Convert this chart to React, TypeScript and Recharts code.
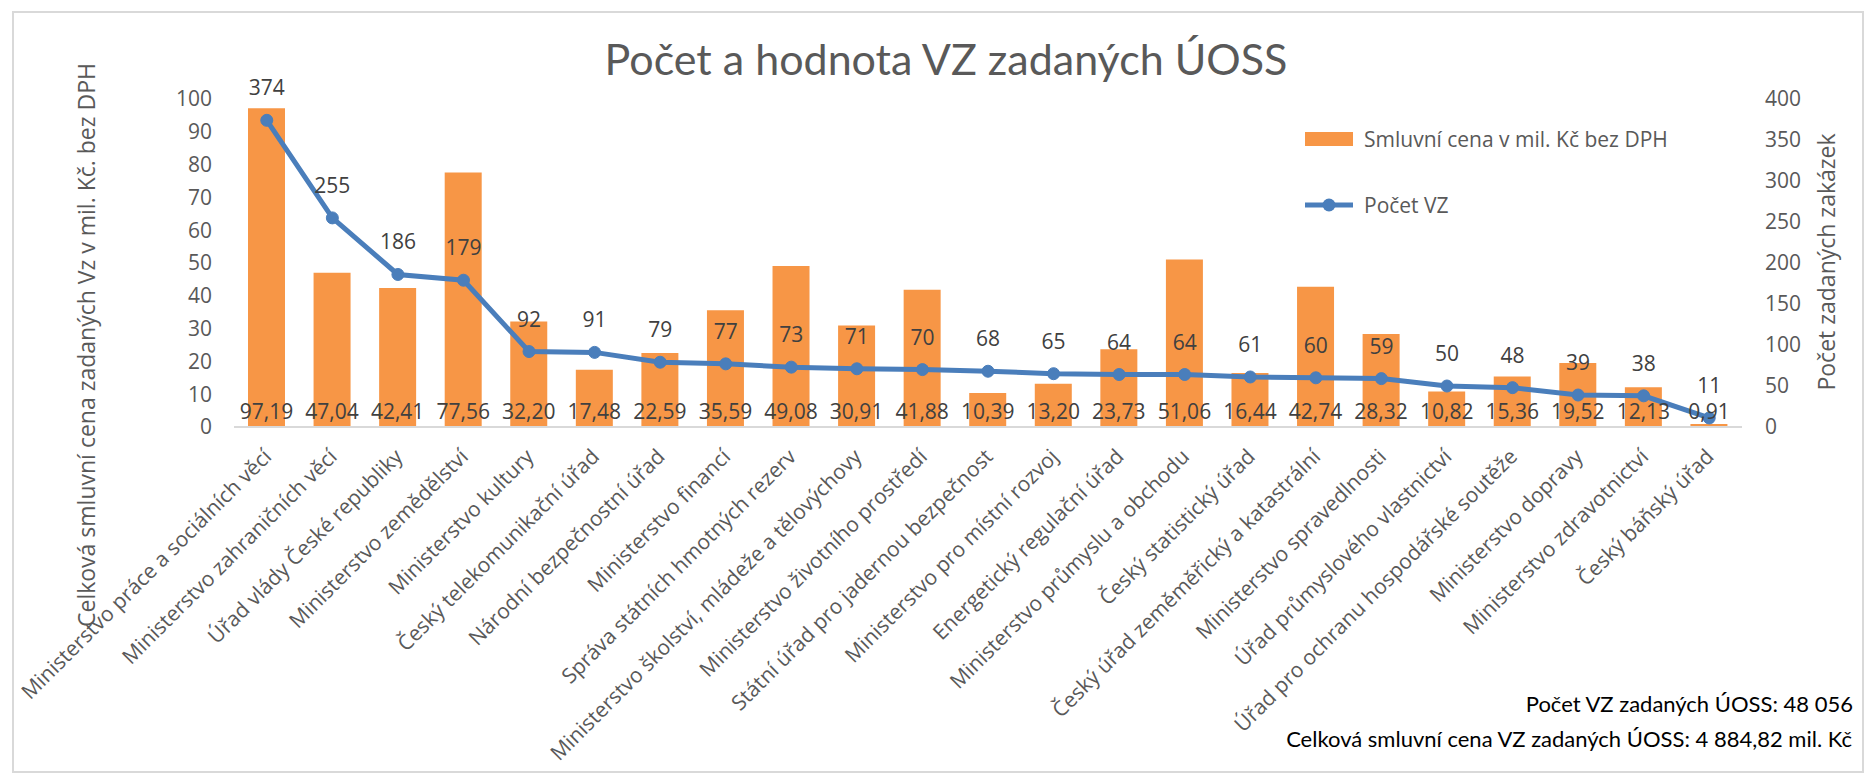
import { Bar, ComposedChart, LabelList, Legend, Line, XAxis, YAxis } from "recharts";

const categories = [
  "Ministerstvo práce a sociálních věcí",
  "Ministerstvo zahraničních věcí",
  "Úřad vlády České republiky",
  "Ministerstvo zemědělství",
  "Ministerstvo kultury",
  "Český telekomunikační úřad",
  "Národní bezpečnostní úřad",
  "Ministerstvo financí",
  "Správa státních hmotných rezerv",
  "Ministerstvo školství, mládeže a tělovýchovy",
  "Ministerstvo životního prostředí",
  "Státní úřad pro jadernou bezpečnost",
  "Ministerstvo pro místní rozvoj",
  "Energetický regulační úřad",
  "Ministerstvo průmyslu a obchodu",
  "Český statistický úřad",
  "Český úřad zeměměřický a katastrální",
  "Ministerstvo spravedlnosti",
  "Úřad průmyslového vlastnictví",
  "Úřad pro ochranu hospodářské soutěže",
  "Ministerstvo dopravy",
  "Ministerstvo zdravotnictví",
  "Český báňský úřad",
];

// smluvní cena v mil. Kč bez DPH
const contractValues = [
  97.19, 47.04, 42.41, 77.56, 32.2, 17.48, 22.59, 35.59, 49.08, 30.91, 41.88, 10.39,
  13.2, 23.73, 51.06, 16.44, 42.74, 28.32, 10.82, 15.36, 19.52, 12.13, 0.91,
];

// počet VZ
const contractCounts = [
  374, 255, 186, 179, 92, 91, 79, 77, 73, 71, 70, 68, 65, 64, 64, 61, 60, 59, 50, 48, 39, 38, 11,
];

const leftTicks = [0, 10, 20, 30, 40, 50, 60, 70, 80, 90, 100];
const rightTicks = [0, 50, 100, 150, 200, 250, 300, 350, 400];

const data = categories.map((name, i) => ({
  name,
  value: contractValues[i],
  count: contractCounts[i],
}));

const ORANGE = "#F79646";
const BLUE = "#4A7EBB";
const GREY = "#595959";
const DARK = "#404040";
const FONT = "'Open Sans', sans-serif";

const fmt = (v: number) => v.toFixed(2).replace(".", ",");

function CategoryTick({ x, y, payload }: any) {
  const tx = x + 6;
  const ty = y + 31;
  return (
    <text
      x={tx}
      y={ty}
      transform={`rotate(-45 ${tx} ${ty})`}
      textAnchor="end"
      fill={GREY}
      fontSize={21}
      fontFamily={FONT}
    >
      {payload.value}
    </text>
  );
}

function BarValueLabel(props: any) {
  const { x, y, width, height, value } = props;
  const cx = Number(x) + Number(width) / 2;
  const base = Number(y) + Number(height);
  return (
    <text x={cx} y={base - 16} textAnchor="middle" dominantBaseline="central" fill={DARK} fontSize={21} fontFamily={FONT}>
      {fmt(Number(value))}
    </text>
  );
}

function CountLabel(props: any) {
  const { x, y, value } = props;
  return (
    <text x={x} y={Number(y) - 33} textAnchor="middle" dominantBaseline="central" fill={DARK} fontSize={21} fontFamily={FONT}>
      {value}
    </text>
  );
}

function LegendBox() {
  return (
    <svg width={420} height={100} style={{ overflow: "visible" }}>
      <rect x={0} y={7} width={48} height={14} fill={ORANGE} />
      <text x={59} y={14} dominantBaseline="central" fill={GREY} fontSize={21} fontFamily={FONT}>
        Smluvní cena v mil. Kč bez DPH
      </text>
      <line x1={0} y1={80} x2={48} y2={80} stroke={BLUE} strokeWidth={5} />
      <circle cx={24} cy={80} r={6.5} fill={BLUE} />
      <text x={59} y={80} dominantBaseline="central" fill={GREY} fontSize={21} fontFamily={FONT}>
        Počet VZ
      </text>
    </svg>
  );
}

export default function App() {
  return (
    <div style={{ position: "absolute", left: 0, top: 0, width: 1866, height: 775, background: "#fff" }}>
      <div
        style={{
          position: "absolute",
          left: 12,
          top: 11,
          width: 1852,
          height: 762,
          border: "2px solid #d9d9d9",
          boxSizing: "border-box",
        }}
      />
      <div style={{ position: "absolute", left: 0, top: 0 }}>
        <ComposedChart
          width={1866}
          height={775}
          data={data}
          margin={{ top: 99, right: 64, bottom: 338, left: 174 }}
        >
          <XAxis
            dataKey="name"
            interval={0}
            height={10}
            tickLine={false}
            tickSize={0}
            tickMargin={0}
            axisLine={{ stroke: "#d9d9d9", strokeWidth: 2 }}
            tick={<CategoryTick />}
          />
          <YAxis
            yAxisId="left"
            width={60}
            domain={[0, 100]}
            ticks={leftTicks}
            interval={0}
            tickLine={false}
            axisLine={false}
            tickSize={0}
            tickMargin={22}
            tick={{ fill: GREY, fontSize: 21, fontFamily: FONT }}
          />
          <YAxis
            yAxisId="right"
            orientation="right"
            width={60}
            domain={[0, 400]}
            ticks={rightTicks}
            interval={0}
            tickLine={false}
            axisLine={false}
            tickSize={0}
            tickMargin={23}
            tick={{ fill: GREY, fontSize: 21, fontFamily: FONT }}
          />
          <Legend
            layout="horizontal"
            verticalAlign="middle"
            align="center"
            wrapperStyle={{ left: 1305, top: 125, width: 420, height: 100 }}
            content={() => <LegendBox />}
          />
          <Bar
            yAxisId="left"
            dataKey="value"
            name="Smluvní cena v mil. Kč bez DPH"
            fill={ORANGE}
            barSize={37}
            isAnimationActive={false}
          >
            <LabelList dataKey="value" content={<BarValueLabel />} />
          </Bar>
          <Line
            yAxisId="right"
            dataKey="count"
            name="Počet VZ"
            type="linear"
            stroke={BLUE}
            strokeWidth={5}
            dot={{ r: 6, fill: BLUE, stroke: BLUE, strokeWidth: 1 }}
            activeDot={false}
            isAnimationActive={false}
          >
            <LabelList dataKey="count" content={<CountLabel />} />
          </Line>
        </ComposedChart>
      </div>
      <svg
        width={1866}
        height={775}
        style={{ position: "absolute", left: 0, top: 0, pointerEvents: "none" }}
      >
        <text x={946} y={75} textAnchor="middle" fill={GREY} fontSize={43} fontFamily="Lato, sans-serif">
          Počet a hodnota VZ zadaných ÚOSS
        </text>
        <text
          x={86}
          y={345}
          transform="rotate(-90 86 345)"
          textAnchor="middle"
          dominantBaseline="central"
          fill={GREY}
          fontSize={23}
          fontFamily={FONT}
        >
          Celková smluvní cena zadaných Vz v mil. Kč. bez DPH
        </text>
        <text
          x={1826}
          y={262}
          transform="rotate(-90 1826 262)"
          textAnchor="middle"
          dominantBaseline="central"
          fill={GREY}
          fontSize={23}
          fontFamily={FONT}
        >
          Počet zadaných zakázek
        </text>
        <text x={1853} y={712} textAnchor="end" fill="#000" fontSize={22} fontFamily="Lato, sans-serif">
          Počet VZ zadaných ÚOSS: 48 056
        </text>
        <text x={1852} y={747} textAnchor="end" fill="#000" fontSize={22} fontFamily="Lato, sans-serif">
          Celková smluvní cena VZ zadaných ÚOSS: 4 884,82 mil. Kč
        </text>
      </svg>
    </div>
  );
}
